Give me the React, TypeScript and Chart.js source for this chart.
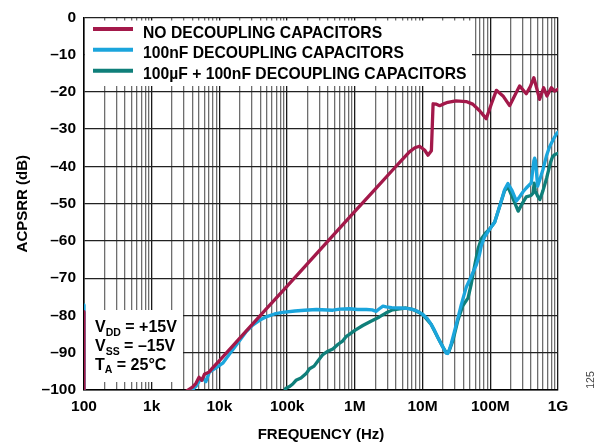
import React, { useEffect, useRef } from 'react';
import { Chart, registerables } from 'chart.js';

Chart.register(...registerables);

const FONT = '"Liberation Sans", Arial, Helvetica, sans-serif';

// ---- axes ----
const X_DECADES = [1e2, 1e3, 1e4, 1e5, 1e6, 1e7, 1e8, 1e9];
const X_DECADE_LABELS = ['100', '1k', '10k', '100k', '1M', '10M', '100M', '1G'];
const X_MINOR_STEPS = [2, 3, 4, 5, 6, 7, 8, 9];
const Y_TICKS = [0, -10, -20, -30, -40, -50, -60, -70, -80, -90, -100];
const X_TITLE = 'FREQUENCY (Hz)';
const Y_TITLE = 'ACPSRR (dB)';

// ---- series ----
const SERIES_LABELS = [
  'NO DECOUPLING CAPACITORS',
  '100nF DECOUPLING CAPACITORS',
  '100\u00b5F + 100nF DECOUPLING CAPACITORS',
];
const SERIES_COLORS = ['#A3194A', '#1BA5DC', '#0F7F7A'];

const NODEC_FREQ = [
  100, 100, 3000, 3200, 4000, 4500, 5000, 5500, 6000, 7000, 8000, 10000,
  20000, 50000, 100000, 200000, 500000, 1e6, 2e6, 4e6, 5e6, 6.4e6, 7.7e6, 9e6,
  10.7e6, 12e6, 13.5e6, 14.3e6, 16e6, 17.9e6, 20e6, 23.6e6, 31e6, 44e6, 55e6,
  69e6, 87e6, 105e6, 123e6, 154e6, 193e6, 230e6, 271e6, 340e6, 390e6, 440e6,
  535e6, 613e6, 686e6, 796e6, 891e6, 1e9,
];
const NODEC_DB = [
  -79, -110, -110, -100.4, -99.2, -98.2, -96.6, -97.4, -95.8, -95.2, -94.0, -92.1,
  -86.1, -78.1, -72.1, -66.1, -58.1, -52.1, -46.1, -40.1, -38.2, -36.1, -35.0, -34.6,
  -35.6, -37.0, -35.8, -23.2, -23.3, -23.7, -23.3, -22.8, -22.4, -22.6, -23.3,
  -25.0, -27.2, -23.0, -19.6, -21.1, -23.7, -21.0, -18.4, -20.5, -18.6, -16.2,
  -22.0, -18.9, -21.1, -18.9, -19.8, -19.3,
];

const C100N_FREQ = [
  100, 100, 3700, 3800, 4500, 5100, 5700, 6300, 7100, 9000, 11200, 14000, 18000,
  24900, 31000, 39000, 50000, 65000, 86000, 130000, 180000, 270000, 473000,
  600000, 830000, 1.1e6, 1.48e6, 1.8e6, 2.07e6, 2.3e6, 2.6e6, 2.9e6, 3.5e6,
  4.6e6, 5.8e6, 7.2e6, 8.5e6, 10e6, 11.7e6, 13.4e6, 15e6, 16.8e6, 18.5e6, 20e6,
  21.5e6, 22.4e6, 23.5e6, 24.6e6, 26.5e6, 31.5e6, 37.3e6, 44e6, 52e6, 62e6,
  69e6, 74e6, 82e6, 98e6, 116e6, 138e6, 163e6, 182e6, 210e6, 243e6, 270e6,
  305e6, 340e6, 403e6, 440e6, 452e6, 465e6, 500e6, 540e6, 598e6, 680e6, 752e6,
  850e6, 955e6, 1e9,
];
const C100N_DB = [
  -77.2, -110, -110, -100.3, -99.0, -97.4, -96.8, -97.8, -95.2, -94.0, -92.8, -90.4, -87.8,
  -84.3, -82.6, -81.3, -80.3, -79.6, -79.2, -78.8, -78.6, -78.4, -78.6,
  -78.3, -78.2, -78.4, -78.4, -78.5, -78.9, -78.2, -77.5, -77.7, -77.9,
  -78.0, -78.1, -78.4, -78.9, -79.7, -80.8, -82.4, -84.0, -85.9, -87.4, -88.5,
  -89.6, -90.1, -90.2, -89.4, -87.6, -82.4, -77.1, -72.5, -69.6, -66.5,
  -63.8, -61.2, -59.0, -56.8, -55.0, -50.6, -46.2, -44.6, -46.5, -49.3, -48.2,
  -46.8, -45.8, -44.4, -38.5, -37.8, -38.5, -45.3, -43.5, -40.9, -37.0, -34.7,
  -32.8, -31.2, -30.8,
];

const C100U_FREQ = [
  90000, 95000, 110000, 121000, 135000, 160000, 191000, 214000, 250000, 290000,
  337000, 400000, 473000, 560000, 665000, 750000, 840000, 1e6, 1.31e6, 1.7e6,
  2.3e6, 2.9e6, 3.6e6, 4.6e6, 5.7e6, 7.2e6, 10e6, 13.4e6, 16.8e6, 20e6, 22.4e6,
  24.6e6, 28e6, 33e6, 39e6, 47e6, 52e6, 59e6, 66e6, 74e6, 87e6, 98e6, 116e6,
  138e6, 163e6, 182e6, 215e6, 258e6, 300e6, 340e6, 400e6, 428e6, 445e6, 462e6,
  500e6, 540e6, 600e6, 680e6, 780e6, 830e6, 900e6, 1e9,
];
const C100U_DB = [
  -101, -99.6, -99.0, -98.4, -97.4, -96.8, -95.6, -94.3, -93.6, -92.0,
  -90.5, -89.6, -89.0, -87.8, -86.8, -85.6, -85.0, -84.0, -82.7, -81.6,
  -80.4, -79.3, -78.5, -78.2, -78.0, -78.4, -79.7, -82.4, -85.9, -88.5, -90.0,
  -89.6, -86.8, -81.5, -77.5, -75.3, -71.8, -66.5, -62.1, -59.4, -57.7, -56.8, -55.0,
  -50.6, -46.5, -45.5, -48.5, -52.0, -49.8, -48.2, -47.8, -47.2, -44.5, -46.5,
  -48.0, -48.9, -46.5, -43.1, -38.8, -37.4, -36.8, -36.5,
];

// ---- annotations ----
const CONDITION_LINES = [
  ['V', 'DD', ' = +15V'],
  ['V', 'SS', ' = \u201315V'],
  ['T', 'A', ' = 25\u00b0C'],
];
const FIGURE_ID = '125';

const SERIES_FREQ = [NODEC_FREQ, C100N_FREQ, C100U_FREQ];
const SERIES_DB = [NODEC_DB, C100N_DB, C100U_DB];

const isDecade = (v: number) => X_DECADES.some((d) => Math.abs(d - v) / d < 1e-9);

const overlayPlugin = {
  id: 'overlay',
  beforeDatasetsDraw(chart: any) {
    const ctx = chart.ctx as CanvasRenderingContext2D;
    const area = chart.chartArea;
    ctx.save();
    // legend box
    ctx.fillStyle = '#ffffff';
    ctx.fillRect(area.left + 1, 20.5, 472 - area.left - 1, 86 - 20.5);
    const rows = [37.5, 58.3, 79.2];
    chart.data.datasets.forEach((ds: any, i: number) => {
      const cy = rows[i] - 8.5;
      ctx.strokeStyle = ds.borderColor;
      ctx.lineWidth = 4;
      ctx.lineCap = 'butt';
      ctx.beginPath();
      ctx.moveTo(93, cy);
      ctx.lineTo(133, cy);
      ctx.stroke();
      ctx.fillStyle = '#000';
      ctx.font = `bold 15.7px ${FONT}`;
      ctx.textBaseline = 'alphabetic';
      ctx.textAlign = 'left';
      ctx.fillText(ds.label, 143, rows[i]);
    });
    // conditions box
    ctx.fillStyle = '#ffffff';
    ctx.fillRect(area.left + 1, 310, 183 - area.left - 1, 382 - 310);
    const base = [332.3, 351, 369.5];
    CONDITION_LINES.forEach((parts, i) => {
      let x = 95;
      ctx.fillStyle = '#000';
      ctx.textBaseline = 'alphabetic';
      ctx.font = `bold 16px ${FONT}`;
      ctx.fillText(parts[0], x, base[i]);
      x += ctx.measureText(parts[0]).width;
      ctx.font = `bold 10.5px ${FONT}`;
      ctx.fillText(parts[1], x, base[i] + 3.5);
      x += ctx.measureText(parts[1]).width;
      ctx.font = `bold 16px ${FONT}`;
      ctx.fillText(parts[2], x, base[i]);
    });
    ctx.restore();
  },
  afterDraw(chart: any) {
    const ctx = chart.ctx as CanvasRenderingContext2D;
    ctx.save();
    ctx.translate(591, 380);
    ctx.rotate(-Math.PI / 2);
    ctx.fillStyle = '#444';
    ctx.font = `10.5px ${FONT}`;
    ctx.textAlign = 'center';
    ctx.textBaseline = 'middle';
    ctx.fillText(FIGURE_ID, 0, 0);
    ctx.restore();
  },
};

export default function App() {
  const canvasRef = useRef<HTMLCanvasElement | null>(null);

  useEffect(() => {
    const canvas = canvasRef.current;
    if (!canvas) return;
    const datasets = SERIES_LABELS.map((label, s) => ({
      label,
      data: SERIES_FREQ[s].map((f, i) => ({ x: f, y: SERIES_DB[s][i] })),
      borderColor: SERIES_COLORS[s],
      backgroundColor: SERIES_COLORS[s],
      borderWidth: 3.3,
      pointRadius: 0,
      tension: 0,
      fill: false,
      clip: 0,
      borderJoinStyle: 'round' as const,
      borderCapStyle: 'round' as const,
    }));

    const chart = new Chart(canvas, {
      type: 'line',
      data: { datasets },
      plugins: [overlayPlugin],
      options: {
        responsive: false,
        devicePixelRatio: 1,
        animation: false,
        layout: { padding: { left: 0, top: 12, right: 49, bottom: 0 } },
        plugins: { legend: { display: false }, tooltip: { enabled: false } },
        scales: {
          x: {
            type: 'logarithmic',
            min: 1e2,
            max: 1e9,
            afterBuildTicks: (scale: any) => {
              const ticks: any[] = [];
              X_DECADES.forEach((d, i) => {
                ticks.push({ value: d });
                if (i < X_DECADES.length - 1) X_MINOR_STEPS.forEach((m) => ticks.push({ value: d * m }));
              });
              scale.ticks = ticks;
            },
            afterFit: (scale: any) => {
              scale.height = 56;
            },
            grid: {
              drawTicks: false,
              color: (c: any) => (c.tick && isDecade(c.tick.value) ? '#1a1a1a' : '#6e6e6e'),
              lineWidth: 1.3,
            },
            border: { display: true, color: '#000', width: 1.5 },
            ticks: {
              autoSkip: false,
              maxRotation: 0,
              padding: 7.5,
              color: '#000',
              font: { family: FONT, size: 15.5, weight: 'bold' },
              callback: (value: any) => {
                const i = X_DECADES.findIndex((d) => Math.abs(d - Number(value)) / d < 1e-9);
                return i >= 0 ? X_DECADE_LABELS[i] : '';
              },
            },
            title: {
              display: true,
              text: X_TITLE,
              color: '#000',
              font: { family: FONT, size: 15, weight: 'bold' },
              padding: { top: 0, bottom: 2 },
            },
          },
          y: {
            type: 'linear',
            min: -100,
            max: 0,
            afterBuildTicks: (scale: any) => {
              scale.ticks = Y_TICKS.map((v) => ({ value: v }));
            },
            afterFit: (scale: any) => {
              scale.width = 84;
            },
            grid: { drawTicks: false, color: '#222', lineWidth: 1.3 },
            border: { display: true, color: '#000', width: 1.5 },
            ticks: {
              padding: 8,
              color: '#000',
              font: { family: FONT, size: 15.5, weight: 'bold' },
              callback: (v: any) => (Number(v) < 0 ? '\u2013' + Math.abs(Number(v)) : String(v)),
            },
            title: {
              display: true,
              text: Y_TITLE,
              color: '#000',
              font: { family: FONT, size: 15, weight: 'bold' },
              padding: { top: 14, bottom: 0 },
            },
          },
        },
      } as any,
    });
    return () => chart.destroy();
  }, []);

  return (
    <div style={{ position: 'absolute', left: 0, top: 0, width: 607, height: 446, background: '#fff' }}>
      <canvas ref={canvasRef} width={607} height={446} style={{ display: 'block' }} />
    </div>
  );
}
